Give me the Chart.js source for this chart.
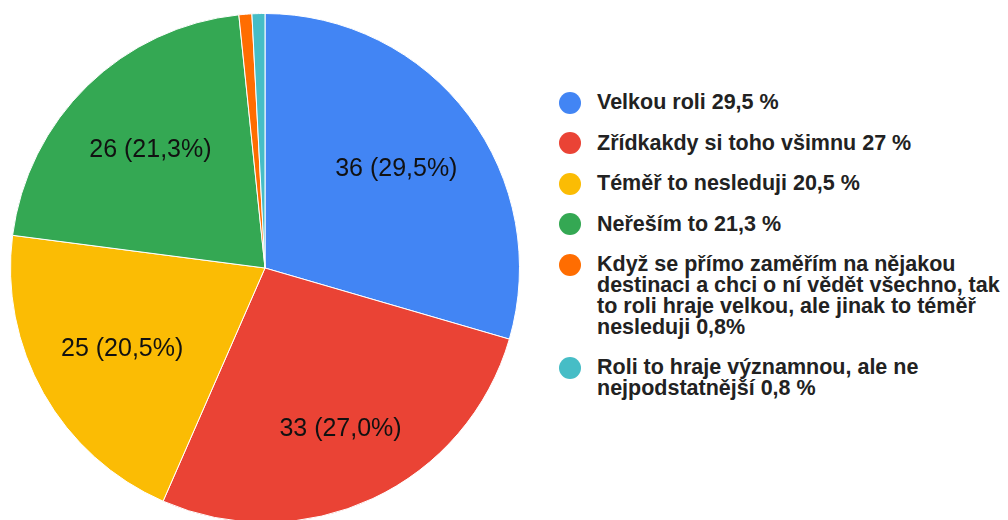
<!DOCTYPE html>
<html>
<head>
<meta charset="utf-8">
<script src="https://cdn.jsdelivr.net/npm/chart.js@4.4.1/dist/chart.umd.min.js"></script>
<style>
  html, body { margin: 0; padding: 0; width: 1008px; height: 520px; overflow: hidden; background: #fff; }
  #pieWrap { position: absolute; left: 10px; top: 13px; width: 510px; height: 510px; }
  #legend { position: absolute; left: 559px; top: 92px; font: bold 21.5px "Liberation Sans", Arial, sans-serif; color: #222; }
  .item { display: flex; align-items: flex-start; margin-bottom: 19px; line-height: 21px; }
  .dot { width: 22px; height: 22px; border-radius: 50%; margin-right: 16px; flex: none; margin-top: -0.5px; }
</style>
</head>
<body>
<div id="pieWrap"><canvas id="pieChart"></canvas></div>
<div id="legend"></div>

<script>
// data odpovedi
const categories = [
  "Velkou roli",
  "Zřídkakdy si toho všimnu",
  "Téměř to nesleduji",
  "Neřeším to",
  "Když se přímo zaměřím na nějakou destinaci a chci o ní vědět všechno, tak to roli hraje velkou, ale jinak to téměř nesleduji",
  "Roli to hraje významnou, ale ne nejpodstatnější"
];
const counts = [36, 33, 25, 26, 1, 1];
const colors = ["#4285F4", "#EA4335", "#FBBC04", "#34A853", "#FF6D01", "#46BDC6"];

// legenda - rozdeleni radku jako v originalu
const legendLines = [
  ["Velkou roli 29,5 %"],
  ["Zřídkakdy si toho všimnu 27 %"],
  ["Téměř to nesleduji 20,5 %"],
  ["Neřeším to 21,3 %"],
  ["Když se přímo zaměřím na nějakou", "destinaci a chci o ní vědět všechno, tak", "to roli hraje velkou, ale jinak to téměř", "nesleduji 0,8%"],
  ["Roli to hraje významnou, ale ne", "nejpodstatnější 0,8 %"]
];

// popisky uvnitr vysece
const sliceLabels = {
  id: "sliceLabels",
  afterDatasetsDraw(chart) {
    const ctx = chart.ctx;
    const meta = chart.getDatasetMeta(0);
    const total = counts.reduce((a, b) => a + b, 0);
    ctx.save();
    ctx.font = '25px "Liberation Sans", Arial, sans-serif';
    ctx.fillStyle = "#111";
    ctx.textAlign = "center";
    ctx.textBaseline = "middle";
    meta.data.forEach((arc, i) => {
      const pct = counts[i] / total * 100;
      if (pct < 5) return; // male vysece bez popisku
      const p = arc.getProps(["x", "y", "startAngle", "endAngle", "outerRadius"], true);
      const mid = (p.startAngle + p.endAngle) / 2;
      // spodni popisek o kus dal od stredu (jako v Google grafu)
      const k = Math.sin(mid) > 0.8 ? 0.7 : 0.645;
      const r = p.outerRadius * k;
      const txt = counts[i] + " (" + pct.toFixed(1).replace(".", ",") + "%)";
      ctx.fillText(txt, p.x + Math.cos(mid) * r, p.y + Math.sin(mid) * r);
    });
    ctx.restore();
  }
};

new Chart(document.getElementById("pieChart"), {
  type: "pie",
  data: {
    labels: categories,
    datasets: [{
      data: counts,
      backgroundColor: colors,
      borderColor: "#fff",
      borderWidth: 1
    }]
  },
  options: {
    responsive: true,
    maintainAspectRatio: false,
    animation: false,
    events: [],
    layout: { padding: 0 },
    plugins: {
      legend: { display: false },
      tooltip: { enabled: false }
    }
  },
  plugins: [sliceLabels]
});

// HTML legenda
const legendBox = document.getElementById("legend");
legendLines.forEach((lines, i) => {
  const item = document.createElement("div");
  item.className = "item";
  const dot = document.createElement("div");
  dot.className = "dot";
  dot.style.background = colors[i];
  const text = document.createElement("div");
  text.innerHTML = lines.join("<br>");
  item.appendChild(dot);
  item.appendChild(text);
  legendBox.appendChild(item);
});
</script>
</body>
</html>
